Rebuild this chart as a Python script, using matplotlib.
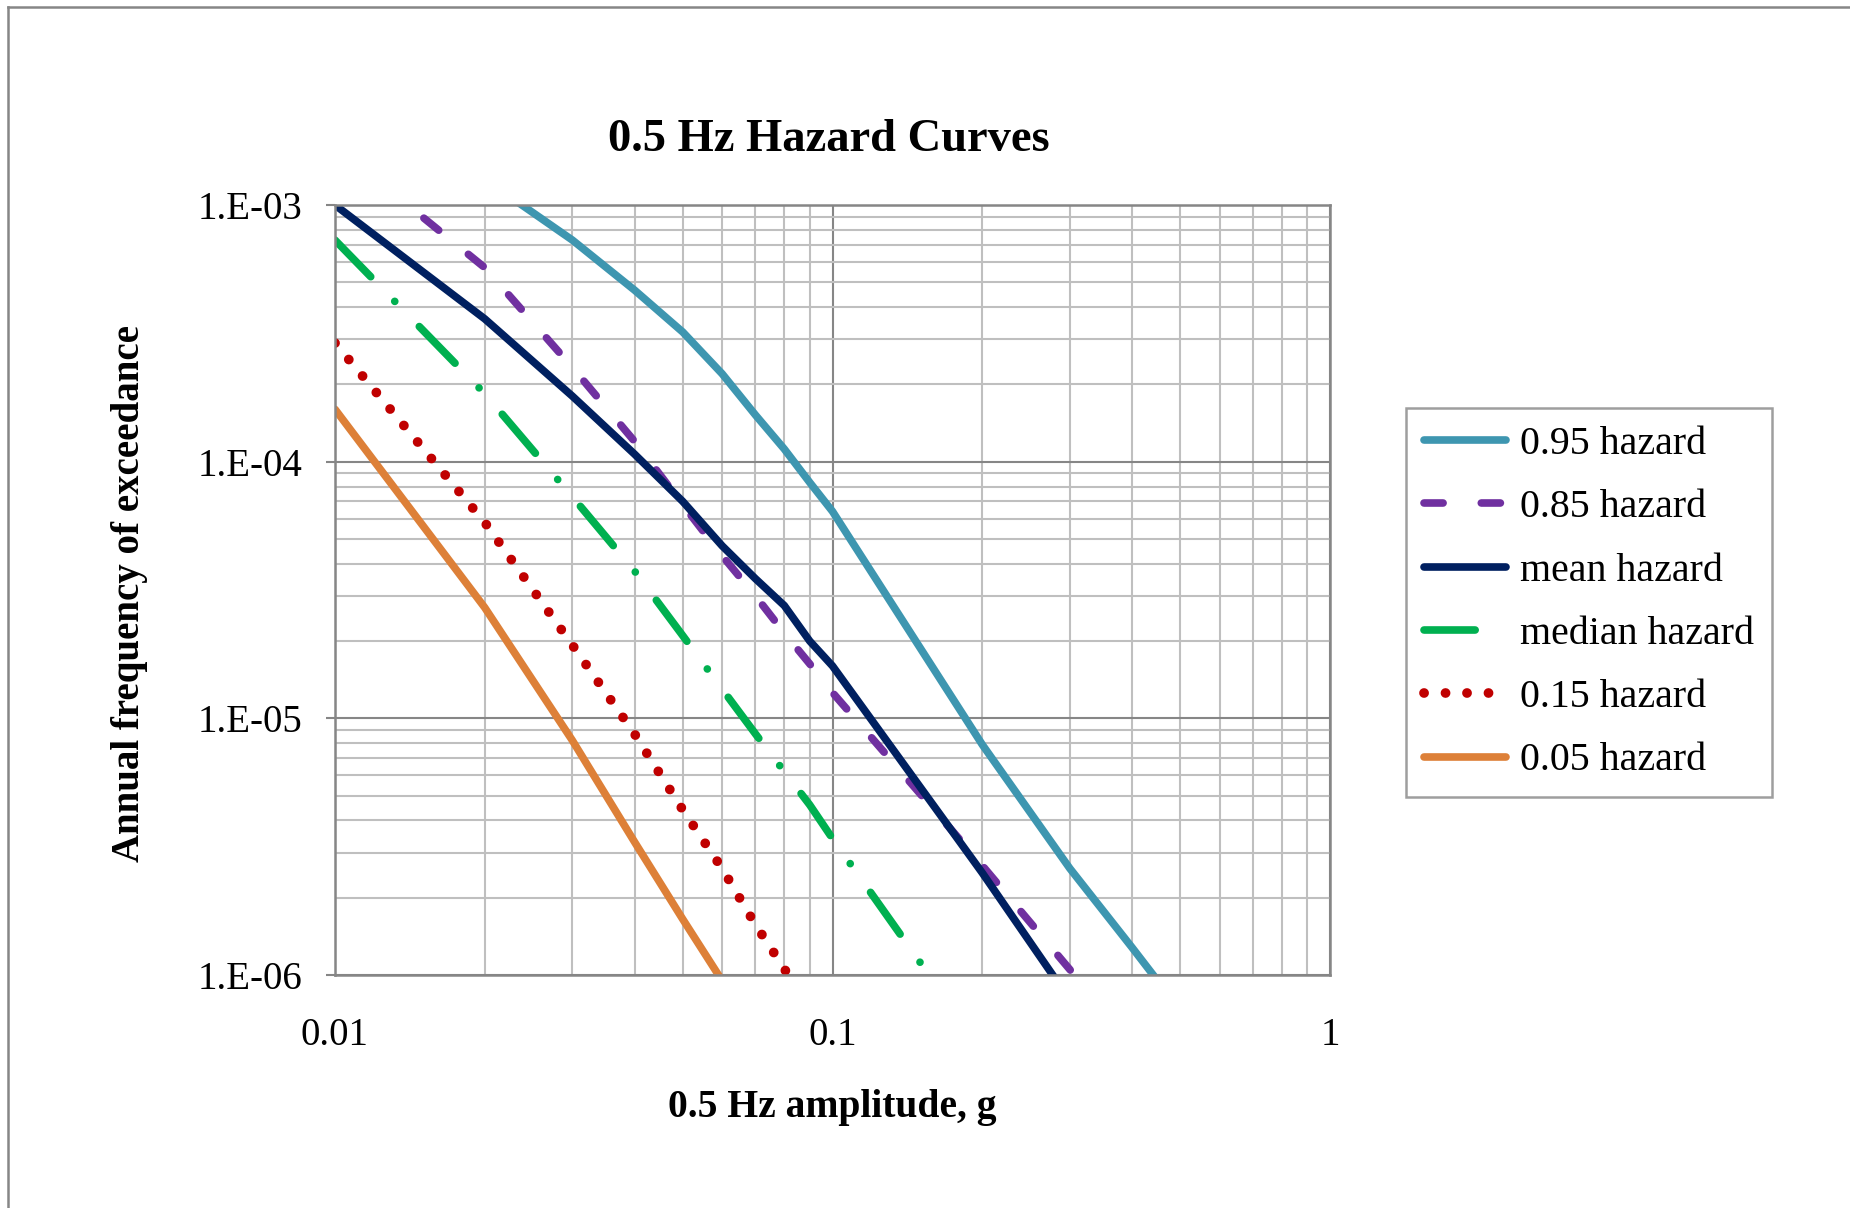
import numpy as np
import matplotlib
matplotlib.use("Agg")
import matplotlib.pyplot as plt
from matplotlib.lines import Line2D
from matplotlib.ticker import FixedLocator, FuncFormatter, NullFormatter

nan = np.nan

# amplitude, g
amp = [0.01, 0.02, 0.03, 0.04, 0.05, 0.06, 0.07, 0.08, 0.09, 0.1, 0.15, 0.2, 0.3, 0.4, 0.5]

# annual frequency of exceedance per fractile
haz_95 = [3.0e-3, 1.26e-3, 7.3e-4, 4.66e-4, 3.2e-4, 2.2e-4, 1.52e-4, 1.12e-4, 8.3e-5, 6.4e-5,
          nan, 7.9e-6, 2.6e-6, 1.28e-6, 7.3e-7]
haz_85 = [1.7e-3, 5.7e-4, 2.33e-4, 1.2e-4, 6.8e-5, 4.3e-5, 3.0e-5, 2.15e-5, 1.63e-5, 1.26e-5,
          nan, 2.67e-6, 1.05e-6, 5.4e-7, nan]
haz_mean = [1.0e-3, 3.6e-4, 1.8e-4, 1.07e-4, 7.0e-5, 4.7e-5, 3.5e-5, 2.75e-5, 2.0e-5, 1.6e-5,
            nan, 2.5e-6, 8.0e-7, nan, nan]
haz_median = [7.3e-4, 1.84e-4, 7.3e-5, 3.75e-5, 2.1e-5, 1.3e-5, 8.7e-6, 6.2e-6, 4.6e-6, 3.4e-6,
              1.12e-6, nan, nan, nan, nan]
haz_15 = [2.9e-4, 5.8e-5, 1.93e-5, 8.7e-6, 4.4e-6, 2.6e-6, 1.57e-6, 1.06e-6, 7.0e-7, nan,
          nan, nan, nan, nan, nan]
haz_05 = [1.6e-4, 2.7e-5, 8.2e-6, 3.3e-6, 1.65e-6, 9.5e-7, 5.8e-7, nan, nan, nan,
          nan, nan, nan, nan, nan]

labels = ["0.95 hazard", "0.85 hazard", "mean hazard", "median hazard", "0.15 hazard", "0.05 hazard"]
colors = ["#3E96B0", "#7030A0", "#002060", "#00B050", "#C00000", "#DD8038"]

plt.rcParams["font.family"] = ["Liberation Serif", "DejaVu Serif"]

fig = plt.figure(figsize=(18.5, 12.08), dpi=100)
ax = fig.add_axes([335 / 1850, 1 - 975 / 1208, 995 / 1850, 770 / 1208])

lw = 5.5
styles = [
    dict(linestyle="-", linewidth=lw),
    dict(linestyle=(0, (2.5, 5.0)), linewidth=lw),
    dict(linestyle="-", linewidth=lw),
    dict(linestyle=(0, (6.7, 4.5, 0.01, 4.6)), linewidth=lw),
    dict(linestyle=(0, (0.01, 2.2)), linewidth=7.0),
    dict(linestyle="-", linewidth=lw),
]

x = np.array(amp)
handles = []
for y, lab, col, st in zip([haz_95, haz_85, haz_mean, haz_median, haz_15, haz_05],
                           labels, colors, styles):
    y = np.array(y)
    m = ~np.isnan(y)
    ln, = ax.plot(x[m], y[m], color=col, label=lab, dash_capstyle="round",
                  solid_capstyle="round", **st)
    handles.append(ln)

# legend shows only the dash part of the dash-dot line
handles[3] = Line2D([], [], color=colors[3], linewidth=lw, linestyle=(0, (6.7, 20)),
                    dash_capstyle="round")

ax.set_xscale("log")
ax.set_yscale("log")
ax.set_xlim(0.01, 1)
ax.set_ylim(1e-6, 1e-3)

ax.xaxis.set_major_locator(FixedLocator([0.01, 0.1, 1]))
ax.yaxis.set_major_locator(FixedLocator([1e-6, 1e-5, 1e-4, 1e-3]))
ax.xaxis.set_major_formatter(FuncFormatter(lambda v, p: {0.01: "0.01", 0.1: "0.1", 1: "1"}.get(round(v, 3), "")))
ax.yaxis.set_major_formatter(FuncFormatter(lambda v, p: "1.E-%02d" % round(-np.log10(v))))
ax.xaxis.set_minor_formatter(NullFormatter())
ax.yaxis.set_minor_formatter(NullFormatter())

ax.grid(which="minor", color="#BFBFBF", linewidth=1.5)
ax.grid(which="major", color="#868686", linewidth=1.5)
ax.set_axisbelow(True)
for s in ax.spines.values():
    s.set_color("#868686")
    s.set_linewidth(1.8)

ax.tick_params(axis="y", which="major", direction="out", length=6.5, width=1.5,
               color="#868686", labelsize=28, pad=17)
ax.tick_params(axis="x", which="major", length=0, labelsize=28, pad=30)
ax.tick_params(which="minor", length=0)

fig.text(0.448, 0.884, "0.5 Hz Hazard Curves", fontsize=33.5, fontweight="bold",
         ha="center", va="center")
fig.text(0.4497, 0.0836, "0.5 Hz amplitude, g", fontsize=28.5, fontweight="bold",
         ha="center", va="center")
fig.text(0.070, 0.509, "Annual frequency of exceedance", fontsize=28, fontweight="bold",
         ha="center", va="center", rotation=90)

leg = fig.legend(handles=handles, labels=labels, loc="upper left",
                 bbox_to_anchor=(1406 / 1850, 1 - 408 / 1208),
                 fontsize=28.7, frameon=True, fancybox=False, borderaxespad=0,
                 handlelength=2.05, handletextpad=0.35, labelspacing=0.66,
                 borderpad=0.45)
leg.get_frame().set_edgecolor("#868686")
leg.get_frame().set_linewidth(1.8)

# outer chart border (top and left visible)
fig.add_artist(Line2D([8 / 1850, 1.0], [1 - 7 / 1208, 1 - 7 / 1208], color="#868686",
                      linewidth=1.8, transform=fig.transFigure))
fig.add_artist(Line2D([8 / 1850, 8 / 1850], [0.0, 1 - 7 / 1208], color="#868686",
                      linewidth=1.8, transform=fig.transFigure))

fig.savefig("out.png", dpi=100)
